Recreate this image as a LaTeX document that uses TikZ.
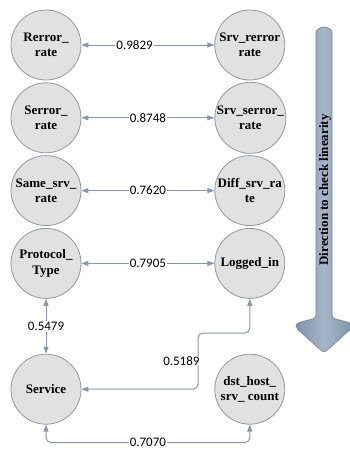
\documentclass[tikz,border=0pt]{standalone}
\usepackage{fontspec}
\setmainfont{Liberation Serif}
\newfontfamily\numfont{Carlito}
\usepackage{xcolor}
\usetikzlibrary{arrows.meta, positioning, calc}

\definecolor{linkgray}{HTML}{8797A9}
\definecolor{circgray}{HTML}{8E99A4}
\definecolor{circfill}{HTML}{E1E1E1}
\definecolor{arrowdark}{HTML}{8093A8}
\definecolor{arrowlight}{HTML}{A6B6C8}
\definecolor{arrowedge}{HTML}{71849A}

\begin{document}
\begin{tikzpicture}[
    x=1pt, y=1pt,
    node distance=2pt,
    feat/.style={circle, draw=circgray, fill=circfill, line width=0.8pt, minimum size=70pt, inner sep=0pt, align=center, font=\fontsize{13}{15.5}\selectfont\bfseries},
    link/.style={{Triangle[length=7pt,width=5pt]}-{Triangle[length=7pt,width=5pt]}, line width=1pt, draw=linkgray},
    corr/.style={fill=white, inner sep=1pt, font=\numfont\fontsize{13}{15}\selectfont}
]

\useasboundingbox (0,0) rectangle (350,-450);

% feature pairs
\node[feat] (rerror) at (46,-45) {Rerror\_\\rate};
\node[feat, right=133pt of rerror] (srvrerror) {Srv\_rerror\\rate};
\node[feat, below=of rerror] (serror) {Serror\_\\rate};
\node[feat, right=133pt of serror] (srvserror) {Srv\_serror\_\\rate};
\node[feat, below=of serror] (samesrv) {Same\_srv\_\\rate};
\node[feat, right=133pt of samesrv] (diffsrv) {Diff\_srv\_ra\\te};
\node[feat, below=of samesrv] (protocol) {Protocol\_\\Type};
\node[feat, right=133pt of protocol] (logged) {Logged\_in};
\node[feat, below=55pt of protocol] (service) {Service};
\node[feat, right=133pt of service] (dsthost) {dst\_host\_\\srv\_ count};

\draw[link] (rerror) -- node[corr, pos=0.4] {0.9829} (srvrerror);
\draw[link] (serror) -- node[corr] {0.8748} (srvserror);
\draw[link] (samesrv) -- node[corr] {0.7620} (diffsrv);
\draw[link] (protocol) -- node[corr] {0.7905} (logged);
\draw[link] (protocol) -- node[corr] {0.5479} (service);

\coordinate (elbow) at (198,-333);
\draw[link, rounded corners=5pt] (logged.south) |- (elbow) |- node[corr, pos=0.25, left=-3pt] {0.5189} (service.east);
\draw[link, rounded corners=5pt] (service.south) -- ++(0,-18) -| node[corr, pos=0.25] {0.7070} (dsthost.south);

% direction arrow
\shadedraw[left color=arrowdark, right color=arrowdark, middle color=arrowlight, draw=arrowedge, line width=0.6pt, rounded corners=3pt]
  (316,-318) -- (316,-35) arc[start angle=180, end angle=0, radius=8] -- (332,-318)
  -- (351,-323) -- (352,-328) -- (324,-353) -- (296,-328) -- (297,-323) -- cycle;
\node[rotate=90, font=\fontsize{13}{15}\selectfont\bfseries] (dirtext) at (325,-190) {Direction to check linearity};

\end{tikzpicture}
\end{document}
